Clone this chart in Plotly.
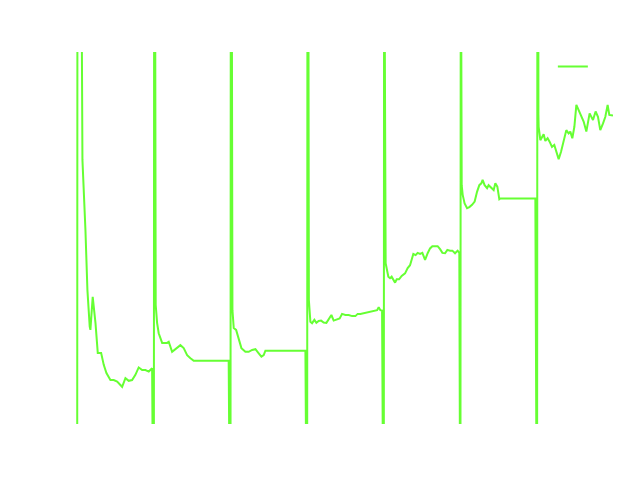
import plotly.graph_objects as go

# Each segment restarts with a spike far past both ends of the axis
# (x: 100 units per segment, y: 0-100 is the visible window)
SPIKE_LOW = -50
SPIKE_HIGH = 150

segment_starts = [0, 100, 200, 300, 400, 500, 600]
# x offsets of the low / high / high points of each opening spike
spike_offsets = [[0, 0.4, 5.0], [0, 0.5, 1.5], [0, 0.5, 1.5], [0, 0.5, 1.5],
                 [0, 0.5, 1.5], [0, 0.5, 1.5], [0, 0.5, 1.5]]

seg1_x = [6.9, 10.8, 13.4, 16.4, 17.3, 20.3, 23.9, 26.9, 31.3, 34.7, 38.2, 43.4, 47.7,
          52.2, 56.5, 58.7, 63.0, 67.3, 71.7, 76.0, 80.3, 84.8, 89.1, 93.4, 97.8]
seg1_y = [71.0, 52.2, 36.0, 26.2, 25.3, 34.2, 27.2, 19.1, 19.1, 15.9, 13.7, 11.8, 11.8,
          11.4, 10.5, 10.0, 12.3, 11.6, 11.8, 13.2, 15.2, 14.5, 14.5, 14.1, 15.0]

seg2_x = [102.5, 104.3, 106.4, 110.9, 117.4, 119.5, 123.9, 130.4, 134.7, 139.0, 143.5,
          147.8, 152.1, 197.7]
seg2_y = [32.0, 27.2, 24.4, 21.8, 21.8, 22.1, 19.4, 20.4, 21.2, 20.4, 18.5,
          17.7, 17.0, 17.0]

seg3_x = [202.6, 204.3, 207.4, 210.8, 214.3, 219.5, 223.8, 228.3, 232.6, 236.9, 240.4,
          243.4, 245.6, 297.8]
seg3_y = [30.6, 25.8, 25.3, 22.6, 20.4, 19.4, 19.4, 19.9, 20.1, 19.0, 18.1,
          18.5, 19.7, 19.7]

seg4_x = [302.3, 304.3, 306.5, 309.5, 312.1, 315.1, 318.3, 321.6, 325.2, 329.5, 331.7,
          334.7, 339.1, 342.5, 345.6, 349.9, 354.3, 358.7, 363.0, 366.0, 369.5, 373.8,
          378.3, 382.6, 386.9, 391.3, 393.4, 395.6, 397.8]
seg4_y = [33.3, 27.5, 27.1, 28.0, 27.2, 27.7, 27.8, 27.3, 27.2, 28.4, 29.3,
          27.8, 28.1, 28.4, 29.6, 29.3, 29.3, 29.0, 29.0, 29.6, 29.6, 29.8,
          29.9, 30.2, 30.5, 30.6, 31.4, 30.6, 30.5]

seg5_x = [401.6, 402.5, 406.0, 408.2, 410.3, 412.5, 414.8, 416.9, 420.0, 423.4, 427.8,
          431.2, 434.3, 438.6, 441.6, 444.2, 447.4, 450.4, 453.9, 457.3, 460.4, 463.4,
          466.9, 470.3, 473.5, 476.5, 480.0, 483.0, 486.5, 489.5, 493.0, 496.4, 498.6]
seg5_y = [53.5, 43.2, 39.6, 39.2, 39.6, 38.7, 38.0, 38.9, 38.9, 39.8, 40.5,
          41.9, 42.7, 45.7, 45.4, 46.0, 45.7, 46.0, 44.1, 45.9, 47.2, 47.8,
          47.7, 47.8, 47.0, 46.0, 45.9, 46.8, 46.6, 46.6, 45.9, 46.6, 46.0]

seg6_x = [501.7, 503.0, 505.5, 508.7, 511.7, 515.2, 518.6, 521.7, 524.7, 527.3, 529.0,
          531.6, 534.8, 536.8, 540.4, 543.4, 545.6, 548.2, 550.8, 552.1, 597.8]
seg6_y = [64.2, 61.6, 59.3, 58.0, 58.3, 58.9, 59.8, 62.4, 64.2, 64.7, 65.6,
          64.2, 63.4, 64.2, 63.4, 62.9, 64.7, 63.8, 60.4, 60.6, 60.6]

seg7_x = [601.8, 602.1, 604.3, 608.6, 610.8, 613.8, 616.4, 619.5, 622.5, 626.1, 628.2,
          631.3, 634.7, 638.2, 641.2, 643.4, 646.0, 648.7, 651.3, 654.2, 656.5, 660.8,
          664.3, 668.6, 673.0, 676.4, 679.5, 682.5, 686.1, 689.1, 692.1, 694.3, 699.1]
seg7_y = [83.1, 79.9, 76.3, 77.9, 76.1, 76.8, 75.9, 74.5, 75.0, 72.3, 71.2,
          73.2, 75.9, 79.0, 78.1, 78.6, 76.8, 79.9, 85.8, 84.4, 83.5, 81.3,
          78.6, 83.5, 81.7, 84.0, 82.6, 79.0, 80.8, 82.6, 85.8, 83.1, 82.9]

segments = [(seg1_x, seg1_y), (seg2_x, seg2_y), (seg3_x, seg3_y), (seg4_x, seg4_y),
            (seg5_x, seg5_y), (seg6_x, seg6_y), (seg7_x, seg7_y)]

xs, ys = [], []
for start, offs, (sx, sy) in zip(segment_starts, spike_offsets, segments):
    # spike down, up, and back into the segment
    xs += [start + o for o in offs]
    ys += [SPIKE_LOW, SPIKE_HIGH, SPIKE_HIGH]
    xs += sx
    ys += sy

fig = go.Figure()
fig.add_trace(go.Scatter(
    x=xs, y=ys,
    mode="lines",
    name="",
    line=dict(color="#66ff33", width=2),
    showlegend=True,
))

# page body adds 8px, so margins are shifted to land the plot area in place
fig.update_layout(
    width=640,
    height=480,
    margin=dict(l=68, r=35, t=44, b=64),
    paper_bgcolor="white",
    plot_bgcolor="white",
    showlegend=True,
    legend=dict(x=0.888, y=1.0, xanchor="left", yanchor="top",
                bgcolor="rgba(0,0,0,0)", font=dict(color="white")),
)
fig.update_xaxes(range=[-1.5, 699.1], showgrid=False, zeroline=False,
                 showline=False, showticklabels=False, ticks="")
fig.update_yaxes(range=[0, 100], showgrid=False, zeroline=False,
                 showline=False, showticklabels=False, ticks="")

fig.write_html("out.html")
